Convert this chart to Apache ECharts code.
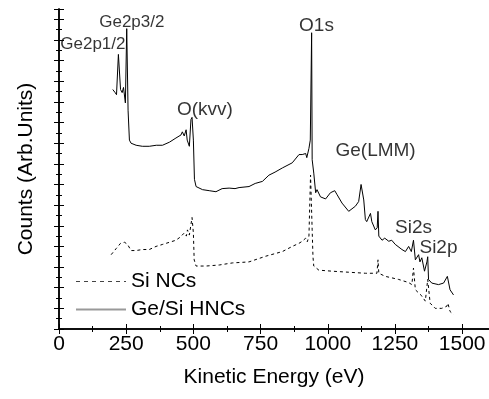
<!DOCTYPE html>
<html>
<head>
  <meta charset="utf-8">
  <title>XPS survey</title>
  <script src="https://cdn.jsdelivr.net/npm/echarts@6/dist/echarts.min.js"></script>
  <style>
    html, body { margin: 0; padding: 0; background: #fff; }
    #chart { width: 489px; height: 399px; }
  </style>
</head>
<body>
<div id="chart"></div>
<script type="text/javascript">
// Ge/Si HNCs spectrum, [kinetic energy (eV), counts (arb.)]
const geSiHNCs = [
  [200, 23.2], [209, 22.9], [214, 22.7], [221, 26.6], [229, 23.2], [235, 22.9],
  [240, 23.4], [247, 21.9], [252, 29.1], [257, 21.2], [262, 18.3], [268, 18.0],
  [287, 17.8], [310, 17.7], [336, 17.7], [362, 17.8], [385, 17.8], [411, 18.1],
  [435, 18.5], [454, 18.8], [459, 19.1], [466, 18.7], [473, 19.3], [477, 18.3],
  [485, 17.7], [491, 20.3], [495, 20.5], [500, 18.3], [504, 14.5], [510, 13.8],
  [534, 13.5], [559, 13.4], [584, 13.3], [607, 13.6], [633, 13.65], [655, 13.6],
  [670, 13.7], [707, 13.8], [730, 14.1], [757, 14.3], [781, 14.9], [804, 15.2],
  [831, 15.6], [868, 16.1], [893, 16.9], [905, 16.9], [918, 17.0], [922, 16.6],
  [930, 17.5], [935, 18.3], [940, 28.7], [942, 16.4], [948, 15.1], [955, 13.2],
  [960, 13.5], [973, 12.8], [992, 12.6], [1010, 13.2], [1026, 13.4], [1035, 13.0],
  [1053, 12.2], [1078, 11.4], [1103, 11.9], [1115, 12.35], [1124, 14.0], [1134, 12.5],
  [1140, 10.6], [1145, 10.4], [1152, 10.4], [1159, 11.2], [1164, 10.4], [1177, 9.6],
  [1184, 9.8], [1187, 11.4], [1190, 9.0], [1202, 8.6], [1212, 8.8], [1227, 8.5],
  [1238, 8.6], [1251, 8.2], [1276, 7.7], [1289, 7.5], [1301, 8.0], [1311, 7.5],
  [1319, 8.6], [1326, 6.7], [1338, 7.2], [1343, 6.5], [1350, 6.9], [1360, 5.6],
  [1369, 6.5], [1372, 7.0], [1375, 4.8], [1387, 4.45], [1412, 4.3], [1431, 4.45],
  [1445, 5.1], [1455, 3.8], [1468, 3.3]
];

// Si NCs spectrum
const siNCs = [
  [194, 7.2], [213, 7.8], [229, 8.3], [244, 8.4], [255, 8.2], [268, 7.6],
  [287, 7.6], [310, 7.7], [336, 7.7], [361, 8.0], [386, 8.2], [411, 8.4],
  [435, 8.6], [451, 8.9], [466, 9.3], [474, 9.0], [478, 9.6], [485, 9.1],
  [495, 10.8], [500, 9.3], [503, 6.7], [510, 6.1], [547, 6.1], [596, 6.2],
  [645, 6.4], [707, 6.5], [769, 7.05], [831, 7.5], [868, 8.0], [893, 8.3],
  [905, 8.5], [918, 8.8], [924, 8.45], [930, 9.0], [936, 14.9], [942, 9.6],
  [945, 7.0], [948, 6.1], [967, 5.7], [1016, 5.6], [1078, 5.5], [1140, 5.4],
  [1183, 5.4], [1187, 6.7], [1190, 5.4], [1214, 5.1], [1264, 4.8], [1301, 4.5],
  [1313, 4.3], [1319, 5.9], [1326, 3.8], [1350, 3.2], [1363, 2.7], [1372, 4.8],
  [1381, 2.5], [1400, 2.0], [1424, 2.0], [1443, 2.2], [1447, 2.5], [1455, 1.7],
  [1468, 1.4]
];

// peak labels, [energy, counts, text]
const peakLabels = [
  [126, 27.6, 'Ge2p1/2'],
  [271, 29.7, 'Ge2p3/2'],
  [543, 21.2, 'O(kvv)'],
  [958, 29.4, 'O1s'],
  [1178, 17.3, 'Ge(LMM)'],
  [1319, 9.85, 'Si2s'],
  [1412, 7.9, 'Si2p']
];

const seriesNames = ['Si NCs', 'Ge/Si HNCs'];
const xTicks = [0, 250, 500, 750, 1000, 1250, 1500];

const font = 'Liberation Sans, Arial, sans-serif';
const axisCommon = {
  axisLine: { lineStyle: { color: '#000', width: 1.5 } },
  axisTick: { inside: true, length: 5, lineStyle: { color: '#000', width: 1 } },
  minorTick: { show: true, splitNumber: 2, length: 3, lineStyle: { color: '#000', width: 1 } },
  splitLine: { show: false },
  minorSplitLine: { show: false }
};

const option = {
  animation: false,
  backgroundColor: '#fff',
  textStyle: { fontFamily: font, color: '#000' },
  grid: { left: 59, top: 9, width: 432, height: 320 },
  legend: {
    orient: 'vertical',
    left: 70,
    top: 266,
    itemWidth: 50,
    itemHeight: 14,
    itemGap: 7,
    itemStyle: { color: 'transparent', borderWidth: 0 },
    textStyle: { fontSize: 21, lineHeight: 21, color: '#000', fontFamily: font },
    data: [
      { name: seriesNames[0], lineStyle: { color: '#444', width: 1, type: [4, 4] } },
      { name: seriesNames[1], lineStyle: { color: '#999', width: 2 } }
    ]
  },
  xAxis: [
    Object.assign({
      type: 'value',
      min: 0, max: 1600, interval: 250,
      name: 'Kinetic Energy (eV)',
      nameLocation: 'middle',
      nameGap: 38,
      nameTextStyle: { fontSize: 21, color: '#000', fontFamily: font },
      axisLabel: {
        fontSize: 21, color: '#000', margin: 5, showMaxLabel: false,
        formatter: v => (xTicks.indexOf(v) >= 0 ? String(v) : '')
      }
    }, axisCommon),
    Object.assign({
      type: 'value', position: 'top',
      min: 0, max: 1600, interval: 250,
      axisLabel: { show: false }
    }, axisCommon)
  ],
  yAxis: [
    Object.assign({
      type: 'value',
      min: 0, max: 31, interval: 2,
      name: 'Counts (Arb.Units)',
      nameLocation: 'middle',
      nameGap: 22,
      nameTextStyle: { fontSize: 21, color: '#000', fontFamily: font },
      axisLabel: { show: false }
    }, axisCommon),
    Object.assign({
      type: 'value', position: 'right',
      min: 0, max: 31, interval: 2,
      axisLabel: { show: false }
    }, axisCommon)
  ],
  series: [
    {
      name: seriesNames[0],
      type: 'line',
      data: siNCs,
      showSymbol: false,
      symbol: 'none',
      lineStyle: { color: '#000', width: 1, type: [3, 3] },
      itemStyle: { color: '#000' }
    },
    {
      name: seriesNames[1],
      type: 'line',
      data: geSiHNCs,
      showSymbol: false,
      symbol: 'none',
      lineStyle: { color: '#000', width: 1 },
      itemStyle: { color: '#000' }
    },
    {
      name: 'peaks',
      type: 'scatter',
      data: peakLabels,
      symbolSize: 1,
      itemStyle: { color: 'transparent' },
      silent: true,
      z: 5,
      label: {
        show: true,
        position: 'inside',
        color: '#000',
        fontFamily: font,
        fontSize: 19,
        formatter: p => p.value[2]
      },
      emphasis: { disabled: true }
    }
  ]
};

// the two Ge2p labels are printed smaller
option.series[2].data = peakLabels.map(d => (d[2].indexOf('Ge2p') === 0
  ? { value: d, label: { fontSize: 17 } }
  : d));

echarts.init(document.getElementById('chart')).setOption(option);
</script>
</body>
</html>
